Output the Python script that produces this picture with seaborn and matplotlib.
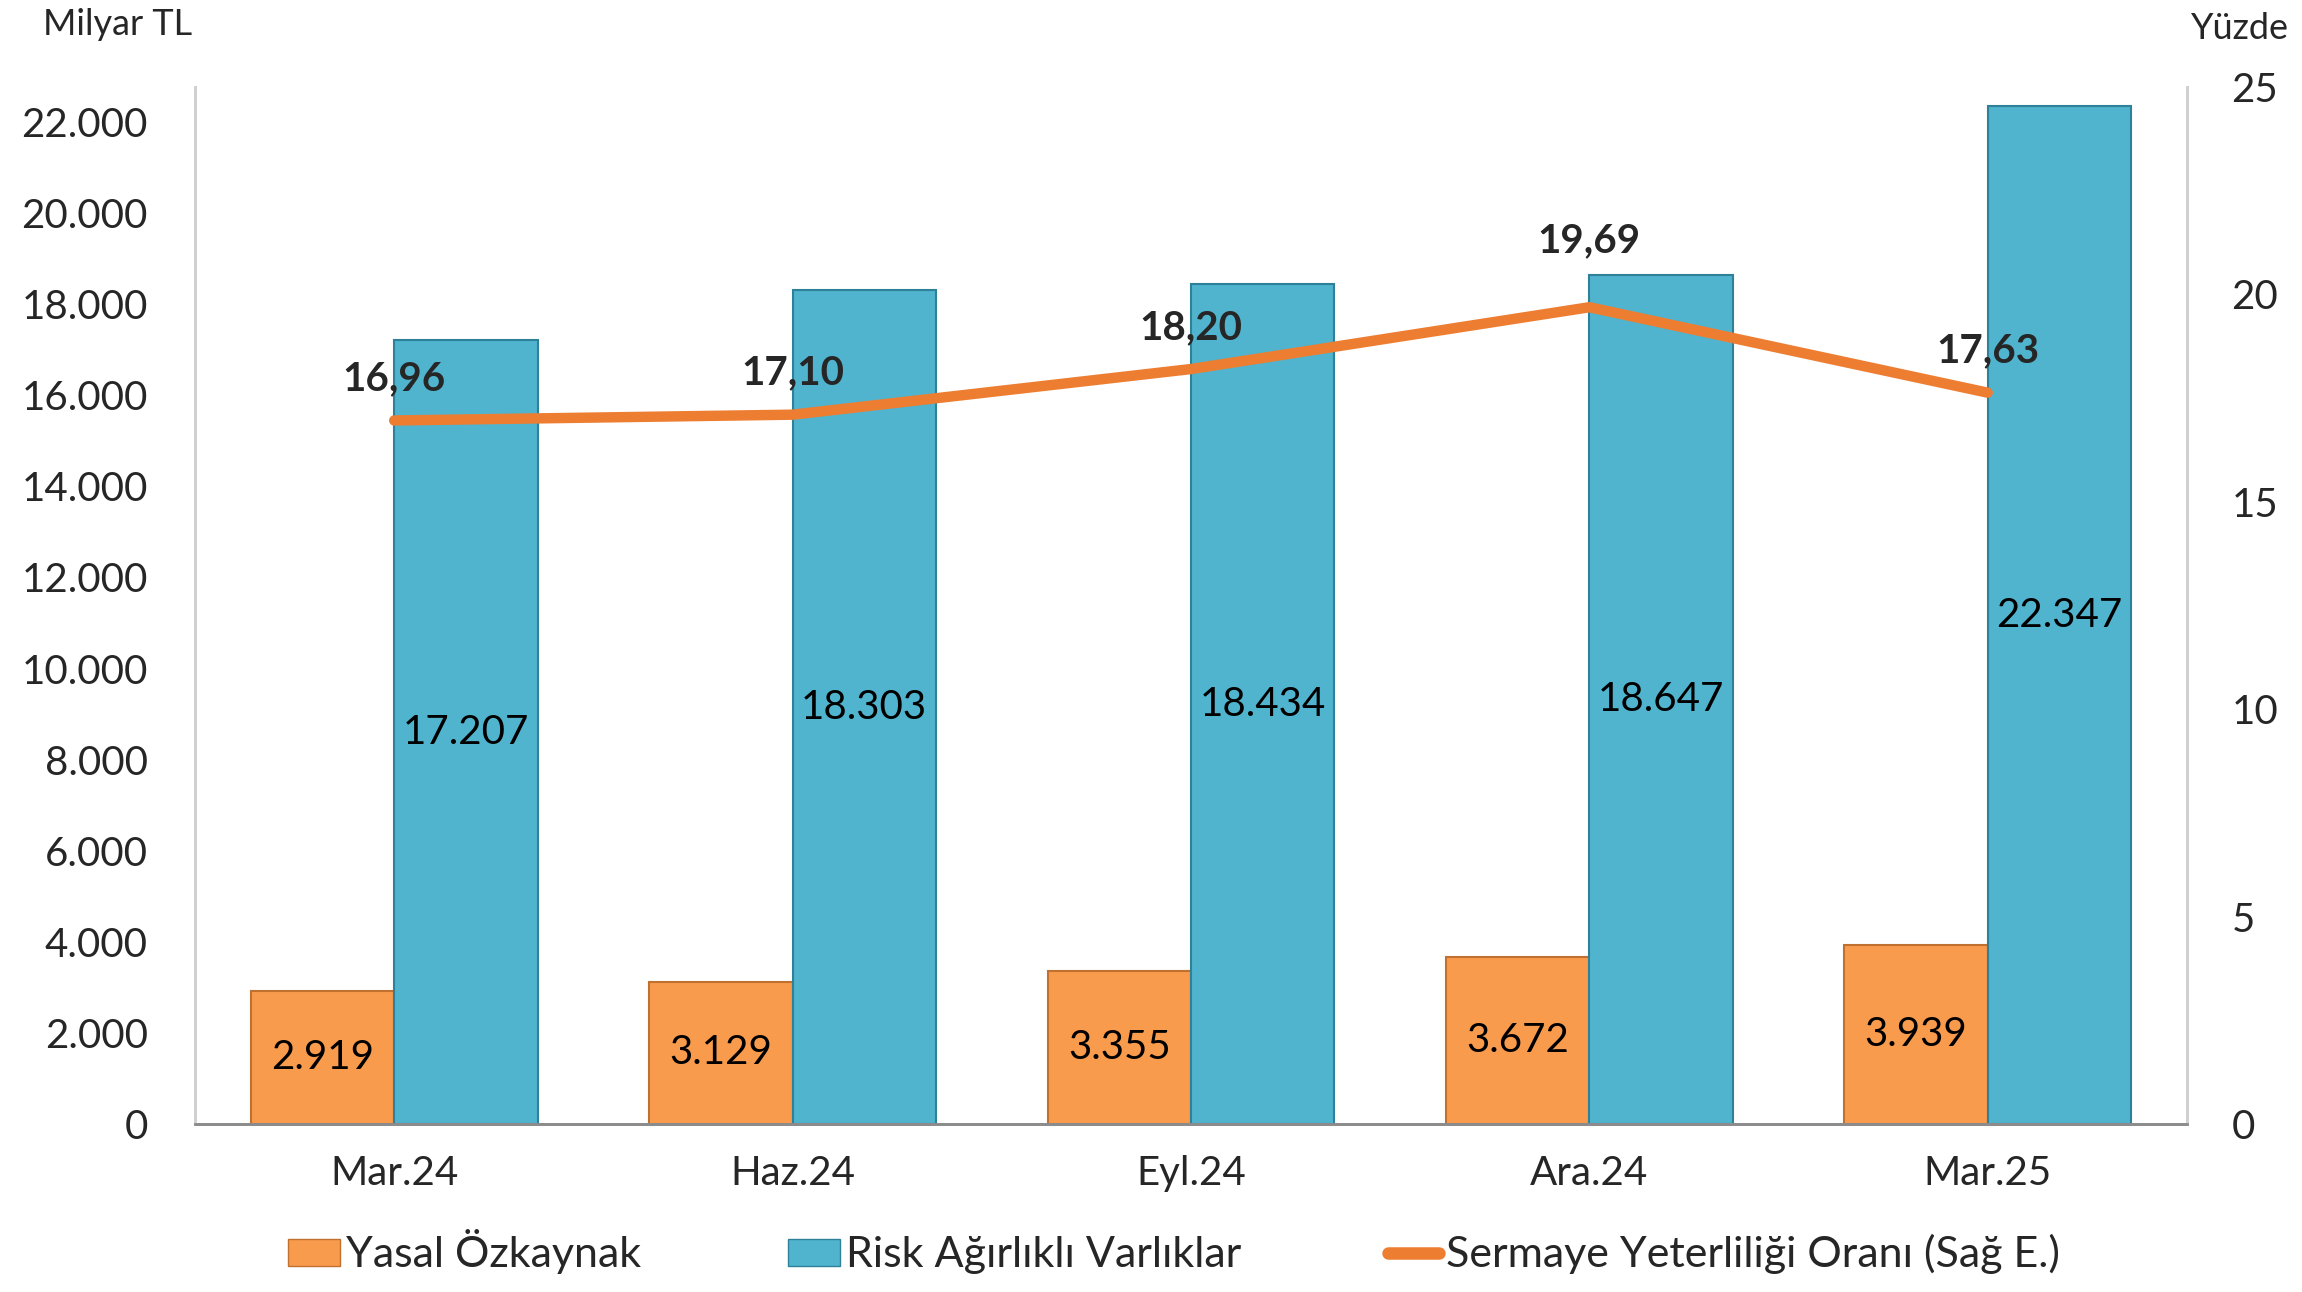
import numpy as np
import pandas as pd
import matplotlib
matplotlib.use('Agg')
import matplotlib.pyplot as plt
import seaborn as sns
from matplotlib.patches import Patch
from matplotlib.lines import Line2D
from matplotlib.ticker import FuncFormatter, FixedLocator

# veriler
donemler = ['Mar.24', 'Haz.24', 'Eyl.24', 'Ara.24', 'Mar.25']
yasal_ozkaynak = [2919, 3129, 3355, 3672, 3939]
risk_agirlikli = [17207, 18303, 18434, 18647, 22347]
sermaye_oran = [16.96, 17.10, 18.20, 19.69, 17.63]
seriler = ['Yasal Özkaynak', 'Risk Ağırlıklı Varlıklar']
oran_adi = 'Sermaye Yeterliliği Oranı (Sağ E.)'

turuncu = '#F99B4D'
mavi = '#50B4CF'
cizgi = '#ED7D31'
kenar = ['#C0702F', '#2E8199']

df = pd.DataFrame({
    'Dönem': donemler * 2,
    'Değer': yasal_ozkaynak + risk_agirlikli,
    'Seri': [seriler[0]] * len(donemler) + [seriler[1]] * len(donemler),
})

sns.set_style('white')
plt.rcParams['font.family'] = ['Lato', 'DejaVu Sans']
FS = 29

fig = plt.figure(figsize=(23.02, 12.92), dpi=100)
ax = fig.add_axes([0.0847, 0.130, 0.8653, 0.8027])

sns.barplot(data=df, x='Dönem', y='Değer', hue='Seri', palette=[turuncu, mavi],
            width=0.72, dodge=True, ax=ax, legend=False, saturation=1)

for cont, seri, ec in zip(ax.containers, [yasal_ozkaynak, risk_agirlikli], kenar):
    for p in cont:
        p.set_edgecolor(ec)
        p.set_linewidth(1.5)
    ax.bar_label(cont, labels=[f'{v:,}'.replace(',', '.') for v in seri],
                 label_type='center', fontsize=FS, color='black')

ax.set_xlim(-0.5, len(donemler) - 0.5)
ax.set_ylim(0, 22770)
ax.set_yticks(np.arange(0, 22001, 2000))
ax.yaxis.set_major_formatter(FuncFormatter(lambda v, p: f'{int(v):,}'.replace(',', '.')))
ax.set_xlabel('')
ax.set_ylabel('')
ax.tick_params(axis='y', length=0, pad=34, labelsize=FS)
ax.tick_params(axis='x', which='major', length=0, pad=22, labelsize=FS)
ax.xaxis.set_minor_locator(FixedLocator(np.arange(-0.5, len(donemler), 1.0)))
ax.tick_params(axis='x', which='minor', length=16, width=1.5, color='#7F7F7F', direction='out')

ax2 = ax.twinx()
sns.lineplot(x=np.arange(len(donemler)), y=sermaye_oran, ax=ax2, color=cizgi,
             linewidth=7.5, solid_capstyle='round')
ax2.set_ylim(0, 25)
ax2.set_yticks(np.arange(0, 26, 5))
ax2.tick_params(axis='y', length=0, pad=32, labelsize=FS)
etiket_ofset = [30, 30, 30, 48, 30]
for i, v in enumerate(sermaye_oran):
    ax2.annotate(f'{v:.2f}'.replace('.', ','), (i, v), xytext=(0, etiket_ofset[i]),
                 textcoords='offset points', ha='center', va='center',
                 fontsize=FS, fontweight='bold')

for a in (ax, ax2):
    a.spines['top'].set_visible(False)
    a.spines['left'].set_color('#D0D0D0')
    a.spines['right'].set_color('#D0D0D0')
    a.spines['left'].set_linewidth(2)
    a.spines['right'].set_linewidth(2)
    a.spines['bottom'].set_color('#8C8C8C')
    a.spines['bottom'].set_linewidth(2)
ax.grid(False)
ax2.grid(False)

fig.text(0.051, 0.981, 'Milyar TL', fontsize=26, ha='center', va='center')
fig.text(0.973, 0.978, 'Yüzde', fontsize=26, ha='center', va='center')

handles = [Patch(facecolor=turuncu, edgecolor=kenar[0]),
           Patch(facecolor=mavi, edgecolor=kenar[1]),
           Line2D([0], [0], color=cizgi, linewidth=9, solid_capstyle='round')]
fig.legend(handles, seriler + [oran_adi], loc='center', bbox_to_anchor=(0.51, 0.031),
           ncol=3, frameon=False, fontsize=31, handlelength=1.2, handleheight=0.6,
           handletextpad=0.15, columnspacing=3.4)

fig.savefig('out.png', dpi=100)
